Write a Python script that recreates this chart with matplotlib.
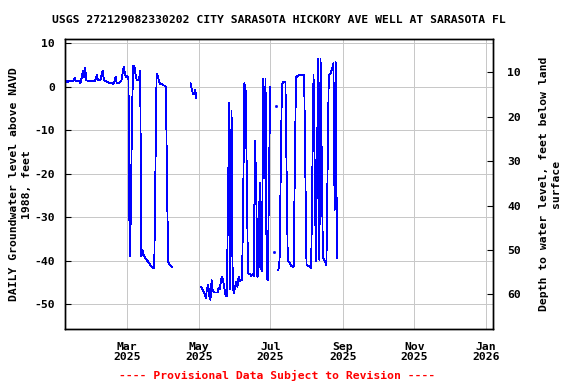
import numpy as np
import matplotlib
matplotlib.use("Agg")
import matplotlib.pyplot as plt

# ---------------- text ----------------
title = "USGS 272129082330202 CITY SARASOTA HICKORY AVE WELL AT SARASOTA FL"
left_label = "DAILY Groundwater level above NAVD\n1988, feet"
right_label = "Depth to water level, feet below land\nsurface"
footer = "---- Provisional Data Subject to Revision ----"

# ---------------- data (daily values, ft above NAVD 1988; None = no data) ----------------
N = None
jan_start = "2025-01-07"
jan_vals = [1.5, 1.3, 1.0, 1.4, 1.4, 1.4, 1.4, 1.4, 2.0, 1.3, 1.3, 1.3, 1.2, 0.8, 2.0,
            3.7, 2.3, 4.3, 1.5, 1.4, 1.4, 1.4, 1.4, 1.4, 1.4]
feb_start = "2025-02-01"
feb_vals = [1.2, 1.8, 2.7, 1.5, 1.5, 1.5, 2.7, 3.7, 1.5, 1.4, 1.4, 1.0, 1.0, 0.8, 1.0,
            0.8, 0.6, 1.2, 2.3, 0.8, 0.8, 0.8, 1.2, 1.4, 3.0, 4.6, 3.0, 2.1]
mar_start = "2025-03-01"
mar_vals = [2.4, 1.7, -38.9, -30.0, -6.0, 4.7, 4.7, 3.0, 1.5, 1.5, 1.5, 3.7, -39.0, -37.5,
            -38.8, -39.2, -39.6, -40.0, -40.3, -40.7, -41.1, -41.4, -41.7, -41.8, -20.0,
            3.0, 2.6, 1.4, 0.6, 0.6, 0.6]
apr_start = "2025-04-01"
apr_vals = [0.3, 0.2, 0.0, -25.0, -40.4, -40.8, -41.1, -41.4,
            N, N, N, N, N, N, N, N, N, N, N, N, N, N, N,
            0.8, -0.5, -1.6, -1.6, -0.8, -2.7, N]
may_start = "2025-05-01"
may_vals = [N, N, -46.0, -46.5, -47.0, -47.5, -48.6, -46.5, -45.5, -48.0, -49.0, -44.5,
            -47.0, -47.3, -47.3, -47.3, -47.3, -46.2, -46.5, -44.5, -43.7, -45.0, -46.6,
            -48.1, -48.1, -26.0, -3.7, -46.5, -5.5, -46.0, -47.5]
jun_start = "2025-06-01"
jun_vals = [-46.0, -44.8, -46.0, -43.7, -44.8, -44.4, -44.4, -24.5, 0.8, -0.8, -20.0,
            -42.7, -43.0, -43.2, -43.5, -43.0, -43.5, -12.4, -22.0, -43.7, -43.5, -22.0,
            -41.5, -42.5, 1.9, -21.0, 1.9, -44.3, -44.4, -21.0]
jul_start = "2025-07-01"
jul_vals = [0.0, N, N, -38.1, N, -4.4, N, -42.1, -39.8, -19.2, 0.6, 1.0, 1.1, 1.2, -20.0,
            -40.0, -40.2, -40.8, -41.2, -41.4, -41.4, -19.2, 2.1, 2.4, 2.6, 2.7, 2.8, 2.8,
            2.7, 2.6, -18.9]
aug_start = "2025-08-01"
aug_vals = [-41.0, -41.1, -41.3, -41.5, -41.6, -18.8, 2.7, -18.8, -40.0, -15.7, 6.3, -39.8,
            6.3, -16.0, -39.2, -39.8, -40.4, -41.1, -19.3, 2.7, 2.8, 3.4, 4.2, 5.4, -28.3,
            5.6, -39.3]

month_blocks = [(jan_start, jan_vals), (feb_start, feb_vals), (mar_start, mar_vals),
                (apr_start, apr_vals), (may_start, may_vals), (jun_start, jun_vals),
                (jul_start, jul_vals), (aug_start, aug_vals)]

x_tick_dates = ["2025-03-01", "2025-05-01", "2025-07-01", "2025-09-01", "2025-11-01", "2026-01-01"]
x_tick_labels = ["Mar\n2025", "May\n2025", "Jul\n2025", "Sep\n2025", "Nov\n2025", "Jan\n2026"]
left_ticks = [-50, -40, -30, -20, -10, 0, 10]
right_ticks = [10, 20, 30, 40, 50, 60]

# ---------------- build series ----------------
dates_list, vals_list = [], []
for start, vals in month_blocks:
    d0 = np.datetime64(start)
    dates_list.append(d0 + np.arange(len(vals)).astype("timedelta64[D]"))
    vals_list.append(np.array([np.nan if v is None else v for v in vals], dtype=float))
dates = np.concatenate(dates_list)
values = np.concatenate(vals_list)

finite = np.isfinite(values)
prev_ok = np.concatenate([[False], finite[:-1]])
next_ok = np.concatenate([finite[1:], [False]])
isolated = finite & ~prev_ok & ~next_ok

# ---------------- figure ----------------
FONT = "DejaVu Sans Mono"
FS = 8.2
plt.rcParams["font.family"] = FONT
plt.rcParams["font.weight"] = "bold"

fig = plt.figure(figsize=(5.76, 3.84), dpi=100)
L, R, T, B = 64.7, 493.3, 39.3, 329.0
ax = fig.add_axes([L / 576, 1 - B / 384, (R - L) / 576, (B - T) / 384])

ax.plot(dates, values, color="#0000ff", lw=0.6, antialiased=False, zorder=3)
ax.plot(dates[isolated], values[isolated], ls="none", marker="s", ms=1.0,
        mec="#0000ff", mfc="#0000ff", zorder=3)

ax.set_xlim(np.datetime64("2025-01-06T13:00"), np.datetime64("2026-01-07T12:00"))
ax.set_ylim(-55.7, 10.9)
ax.set_xticks([np.datetime64(d) for d in x_tick_dates])
ax.set_xticklabels(x_tick_labels, fontsize=FS, fontweight="bold", linespacing=1.05)
ax.set_yticks(left_ticks)
ax.set_yticklabels([str(t) for t in left_ticks], fontsize=FS, fontweight="bold")
ax.grid(True, color="#c8c8c8", lw=0.72, antialiased=False, zorder=0)
ax.set_axisbelow(True)
ax.tick_params(axis="x", direction="in", length=0, pad=9)
ax.tick_params(axis="y", direction="in", length=4, pad=7)
for s in ax.spines.values():
    s.set_linewidth(1.0)
    s.set_color("black")

ax2 = ax.twinx()
ax2.set_ylim(67.8, 2.57)
ax2.set_yticks(right_ticks)
ax2.set_yticklabels([str(t) for t in right_ticks], fontsize=FS, fontweight="bold")
ax2.tick_params(axis="y", direction="in", length=4, pad=10)
for s in ax2.spines.values():
    s.set_linewidth(1.0)

ax.set_ylabel(left_label, fontsize=FS, fontweight="bold", linespacing=1.3, labelpad=2)
ax2.set_ylabel(right_label, fontsize=FS, fontweight="bold", linespacing=1.3, labelpad=13)

fig.text((L + R) / 2 / 576, 1 - 20 / 384, title, ha="center", va="center",
         fontsize=FS, fontweight="bold")
fig.text(277.5 / 576, 1 - 375 / 384, footer, ha="center", va="center",
         fontsize=FS, fontweight="bold", color="#ff0000")

fig.savefig("out.png", dpi=100)
